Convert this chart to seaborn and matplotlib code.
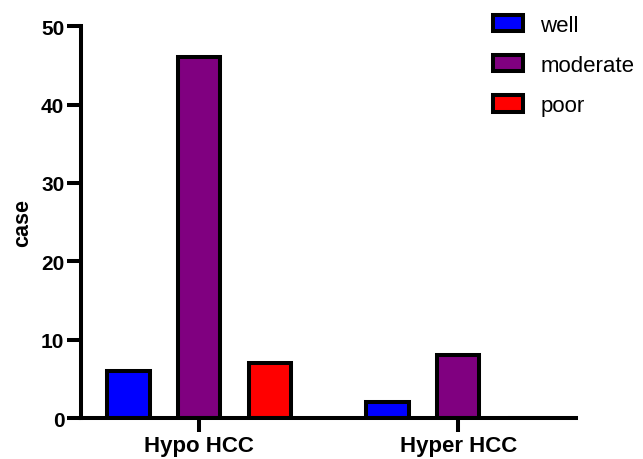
import pandas as pd
import numpy as np
import matplotlib
matplotlib.use("Agg")
import matplotlib.pyplot as plt
import seaborn as sns

sns.set_style("ticks", {'axes.edgecolor': 'black', 'xtick.color': 'black',
                        'ytick.color': 'black', 'text.color': 'black',
                        'axes.labelcolor': 'black'})
plt.rcParams['font.family'] = ['Liberation Sans', 'DejaVu Sans']

# data
groups = ['Hypo HCC', 'Hyper HCC']
grades = ['well', 'moderate', 'poor']
well = [6, 2]
moderate = [46, 8]
poor = [7, 0]
colors = ['#0000FF', '#800080', '#FF0000']

df = pd.DataFrame({
    'group': groups * 3,
    'grade': [g for g in grades for _ in groups],
    'case': well + moderate + poor,
})

fig = plt.figure(figsize=(6.43, 4.6), dpi=100)
ax = fig.add_axes([0.126, 0.089, 0.770, 0.852])

lw = 2.9
sns.barplot(data=df, x='group', y='case', hue='grade', order=groups,
            hue_order=grades, palette=colors, width=0.82, gap=0.40,
            edgecolor='black', linewidth=lw, saturation=1, ax=ax)

ax.set_ylim(0, 50)
ax.set_xlim(-0.456, 1.455)
ax.set_yticks([0, 10, 20, 30, 40, 50])
sns.despine(ax=ax)
for s in ['left', 'bottom']:
    ax.spines[s].set_linewidth(lw)
ax.tick_params(axis='both', width=lw, length=10, pad=2)
ax.tick_params(axis='y', labelsize=15)
ax.tick_params(axis='x', labelsize=16)
for lab in ax.get_xticklabels() + ax.get_yticklabels():
    lab.set_fontweight('bold')
ax.set_xlabel('')
ax.set_ylabel('case', fontsize=15.5, fontweight='bold', labelpad=6)

handles, labels = ax.get_legend_handles_labels()
ax.legend(handles, labels, loc='upper left', bbox_to_anchor=(0.766, 0.966),
          bbox_transform=fig.transFigure, frameon=False, fontsize=16,
          handlelength=1.35, handleheight=0.75, handletextpad=0.8,
          labelspacing=0.87, borderaxespad=0, borderpad=0)

fig.savefig('out.png', dpi=100)
